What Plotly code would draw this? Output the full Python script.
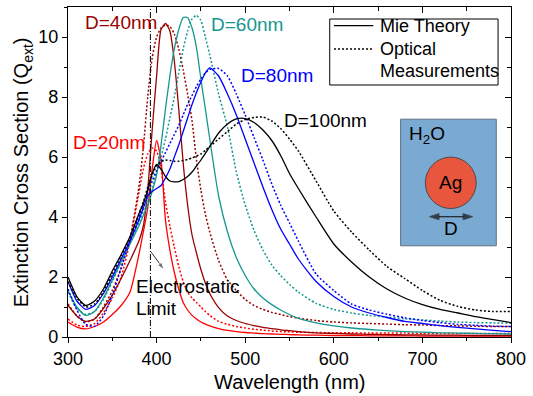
import plotly.graph_objects as go

# ---------------- data ----------------
wavelength = [300, 310, 320, 330, 340, 350, 360, 370, 380,
              385, 390, 395, 400, 405, 410, 415, 420, 425, 430, 435, 440, 445, 450, 455, 460,
              470, 480, 490, 500, 510, 520, 530, 540, 550, 560,
              580, 600, 620, 640, 660, 680, 700, 720, 740, 760, 780, 800]

mie_20 = [0.5, 0.33, 0.27, 0.35, 0.5, 0.75, 1.05, 1.5, 2.75,
          3.5, 4.3, 5.6, 6.55, 5.9, 3.9, 2.9, 2.15, 1.6, 1.15, 0.9, 0.72, 0.6, 0.5, 0.43, 0.37,
          0.28, 0.22, 0.18, 0.15, 0.13, 0.11, 0.1, 0.09, 0.08, 0.07,
          0.06, 0.05, 0.05, 0.04, 0.04, 0.04, 0.03, 0.03, 0.03, 0.03, 0.03, 0.03]
meas_20 = [0.6, 0.4, 0.35, 0.45, 0.8, 1.3, 2.0, 3.2, 4.8,
           5.6, 6.1, 6.3, 6.2, 5.6, 4.5, 3.7, 3.0, 2.35, 1.85, 1.5, 1.3, 1.15, 1.0, 0.85, 0.72,
           0.52, 0.42, 0.35, 0.3, 0.26, 0.23, 0.2, 0.18, 0.17, 0.16,
           0.15, 0.14, 0.14, 0.13, 0.13, 0.13, 0.12, 0.12, 0.12, 0.12, 0.12, 0.12]

mie_40 = [1.05, 0.7, 0.52, 0.6, 0.95, 1.4, 1.95, 2.55, 3.2,
          3.7, 4.9, 6.9, 8.7, 10.25, 10.45, 10.2, 9.2, 7.6, 5.8, 4.4, 3.4, 2.8, 2.25, 1.8, 1.45,
          0.98, 0.7, 0.55, 0.45, 0.38, 0.32, 0.28, 0.24, 0.21, 0.18,
          0.14, 0.12, 0.1, 0.09, 0.08, 0.07, 0.07, 0.06, 0.06, 0.05, 0.05, 0.05]
meas_40 = [1.1, 0.7, 0.5, 0.6, 1.0, 1.55, 2.3, 3.3, 5.0,
           6.3, 8.0, 9.3, 10.0, 10.3, 10.4, 10.35, 10.1, 9.6, 8.9, 8.1, 7.2, 5.9, 4.9, 4.1, 3.5,
           2.55, 1.9, 1.55, 1.25, 1.05, 0.92, 0.82, 0.75, 0.68, 0.63,
           0.55, 0.5, 0.47, 0.45, 0.43, 0.41, 0.4, 0.38, 0.37, 0.36, 0.35, 0.35]

mie_60 = [1.55, 1.0, 0.72, 0.85, 1.3, 1.9, 2.5, 3.1, 3.7,
          4.05, 4.4, 4.85, 5.4, 6.4, 7.6, 8.7, 9.6, 10.25, 10.65, 10.65, 10.3, 9.65, 8.6, 7.6, 6.6,
          4.7, 3.5, 2.65, 2.05, 1.6, 1.3, 1.08, 0.9, 0.75, 0.62,
          0.47, 0.37, 0.3, 0.25, 0.21, 0.18, 0.16, 0.14, 0.13, 0.12, 0.11, 0.1]
meas_60 = [1.5, 0.95, 0.75, 0.85, 1.25, 1.85, 2.5, 3.15, 3.8,
           4.2, 4.6, 5.0, 5.5, 6.0, 6.6, 7.3, 8.0, 8.8, 9.6, 10.2, 10.6, 10.72, 10.55, 10.0, 9.4,
           8.1, 7.0, 5.5, 4.4, 3.55, 2.9, 2.4, 2.05, 1.75, 1.5,
           1.12, 0.92, 0.8, 0.72, 0.66, 0.61, 0.57, 0.53, 0.5, 0.48, 0.47, 0.46]

mie_80 = [1.85, 1.2, 0.92, 1.05, 1.45, 2.0, 2.6, 3.2, 3.9,
          4.3, 4.7, 4.85, 4.95, 5.05, 5.3, 5.6, 6.0, 6.4, 6.85, 7.3, 7.75, 8.15, 8.5, 8.8, 8.97,
          8.7, 8.1, 7.4, 6.6, 5.8, 5.0, 4.25, 3.6, 3.1, 2.6,
          1.85, 1.35, 1.0, 0.8, 0.65, 0.52, 0.45, 0.38, 0.32, 0.27, 0.22, 0.18]
meas_80 = [1.6, 0.9, 0.42, 0.36, 0.7, 1.4, 2.3, 3.2, 4.0,
           4.4, 4.8, 5.2, 5.55, 5.85, 6.15, 6.45, 6.75, 7.05, 7.4, 7.75, 8.05, 8.35, 8.6, 8.8, 8.92,
           8.95, 8.7, 8.1, 7.4, 6.65, 5.9, 5.1, 4.4, 3.8, 3.2,
           2.1, 1.55, 1.1, 0.9, 0.76, 0.64, 0.55, 0.48, 0.42, 0.39, 0.36, 0.35]

mie_100 = [2.0, 1.35, 1.05, 1.2, 1.6, 2.2, 2.75, 3.35, 4.1,
           4.45, 4.9, 5.45, 5.75, 5.6, 5.35, 5.2, 5.17, 5.18, 5.25, 5.35, 5.5, 5.7, 5.9, 6.12, 6.35,
           6.8, 7.1, 7.27, 7.28, 7.15, 6.9, 6.55, 6.05, 5.45, 4.95,
           4.0, 3.1, 2.5, 2.0, 1.6, 1.3, 1.08, 0.92, 0.8, 0.68, 0.58, 0.48]
meas_100 = [1.85, 1.3, 1.0, 1.1, 1.5, 2.1, 2.7, 3.3, 4.1,
            4.5, 5.0, 5.4, 5.7, 5.85, 5.9, 5.88, 5.86, 5.86, 5.88, 5.92, 5.97, 6.03, 6.1, 6.22, 6.35,
            6.6, 6.85, 7.1, 7.25, 7.32, 7.33, 7.2, 6.95, 6.6, 6.2,
            5.2, 4.2, 3.5, 2.9, 2.35, 1.95, 1.55, 1.22, 1.02, 0.9, 0.85, 0.85]

sizes = ["D=20nm", "D=40nm", "D=60nm", "D=80nm", "D=100nm"]
mie_series = [mie_20, mie_40, mie_60, mie_80, mie_100]
meas_series = [meas_20, meas_40, meas_60, meas_80, meas_100]
colors = ["#FF0000", "#990000", "#15978F", "#0000FF", "#000000"]

electrostatic_limit = 393
x_ticks = [300, 400, 500, 600, 700, 800]
y_ticks = [0, 2, 4, 6, 8, 10]

FONT = "Arial, 'Liberation Sans', sans-serif"
LBL = 19

fig = go.Figure()

for name, ym, yd, c in zip(sizes, mie_series, meas_series, colors):
    fig.add_trace(go.Scatter(x=wavelength, y=yd, mode="lines", name=name + " meas",
                             line=dict(color=c, width=1.5, dash="2px,2px", shape="spline", smoothing=0.6),
                             showlegend=False, hoverinfo="skip"))
    fig.add_trace(go.Scatter(x=wavelength, y=ym, mode="lines", name=name,
                             line=dict(color=c, width=1.3, shape="spline", smoothing=0.6),
                             showlegend=False, hoverinfo="skip"))

# electrostatic limit line
fig.add_trace(go.Scatter(x=[electrostatic_limit, electrostatic_limit], y=[0, 11], mode="lines",
                         line=dict(color="black", width=1, dash="6px,2px,1px,2px"),
                         showlegend=False, hoverinfo="skip"))

# pointer arrow to the electrostatic limit label
fig.add_trace(go.Scatter(x=[393.6, 408.5], y=[2.84, 2.24], mode="lines+markers",
                         line=dict(color="#333", width=1),
                         marker=dict(symbol="arrow", size=[0, 8], angleref="previous", color="#333"),
                         showlegend=False, hoverinfo="skip"))

axis_common = dict(showline=True, linecolor="black", linewidth=1.3, showgrid=False, zeroline=False,
                   tickcolor="black", tickwidth=1.1)

fig.update_layout(
    width=533, height=396,
    margin=dict(l=68, r=17, t=7, b=59),
    paper_bgcolor="white", plot_bgcolor="white",
    font=dict(family=FONT, size=18, color="black"),
    xaxis=dict(range=[300, 800], tickvals=x_ticks, ticks="outside", ticklen=5,
               minor=dict(dtick=50, ticks="outside", ticklen=3, tickcolor="black"),
               tickfont=dict(size=18), **axis_common),
    yaxis=dict(range=[0, 11], tickvals=y_ticks, ticks="outside", ticklen=5,
               minor=dict(dtick=1, ticks="outside", ticklen=3, tickcolor="black"),
               tickfont=dict(size=18), **axis_common),
    xaxis2=dict(overlaying="x", side="top", range=[300, 800], tickvals=x_ticks, ticks="inside", ticklen=6,
                minor=dict(dtick=50, ticks="inside", ticklen=4, tickcolor="black"),
                showticklabels=False, **axis_common),
    yaxis2=dict(overlaying="y", side="right", range=[0, 11], tickvals=y_ticks, ticks="inside", ticklen=6,
                minor=dict(dtick=1, ticks="inside", ticklen=4, tickcolor="black"),
                showticklabels=False, **axis_common),
)
fig.add_trace(go.Scatter(x=[None], y=[None], xaxis="x2", yaxis="y2", showlegend=False, hoverinfo="skip"))

ann = []
# axis titles
ann.append(dict(text="Wavelength (nm)", xref="paper", yref="paper", x=0.5, y=-0.137,
                xanchor="center", yanchor="middle", showarrow=False, font=dict(size=20)))
ann.append(dict(text="Extinction Cross Section (Q<sub>ext</sub>)", xref="paper", yref="paper",
                x=-0.103, y=0.5, textangle=-90, xanchor="center", yanchor="middle",
                showarrow=False, font=dict(size=20)))
# size labels
label_pos = [(346.6, 6.47), (360.1, 10.47), (501.9, 10.43), (535.4, 8.71), (590.2, 7.21)]
for name, (lx, ly), c in zip(sizes, label_pos, colors):
    ann.append(dict(text=name, x=lx, y=ly, xref="x", yref="y", showarrow=False,
                    xanchor="center", yanchor="middle", font=dict(size=LBL, color=c)))
# electrostatic limit text
ann.append(dict(text="Electrostatic", x=374.5, y=1.68, xref="x", yref="y", showarrow=False,
                xanchor="left", yanchor="middle", font=dict(size=LBL)))
ann.append(dict(text="Limit", x=374.5, y=0.96, xref="x", yref="y", showarrow=False,
                xanchor="left", yanchor="middle", font=dict(size=LBL)))

shapes = []
# legend
shapes.append(dict(type="rect", xref="x", yref="y", x0=595.4, x1=785.4, y0=8.4, y1=10.6,
                   line=dict(color="black", width=1), fillcolor="white", layer="above"))
shapes.append(dict(type="line", xref="x", yref="y", x0=600.2, x1=644.6, y0=10.38, y1=10.38,
                   line=dict(color="black", width=1.3), layer="above"))
shapes.append(dict(type="line", xref="x", yref="y", x0=600.2, x1=644.6, y0=9.6, y1=9.6,
                   line=dict(color="black", width=1.3, dash="2px,2px"), layer="above"))
ann.append(dict(text="Mie Theory", x=650.2, y=10.37, xref="x", yref="y", showarrow=False,
                xanchor="left", yanchor="middle", font=dict(size=18)))
ann.append(dict(text="Optical", x=650.2, y=9.6, xref="x", yref="y", showarrow=False,
                xanchor="left", yanchor="middle", font=dict(size=18)))
ann.append(dict(text="Measurements", x=650.2, y=8.87, xref="x", yref="y", showarrow=False,
                xanchor="left", yanchor="middle", font=dict(size=18)))

# inset (no curve passes through this region, so it can sit below the traces)
shapes.append(dict(type="rect", xref="x", yref="y", x0=675.4, x1=783.4, y0=3.04, y1=7.26,
                   line=dict(color="#5F7385", width=1), fillcolor="#7AAAD2", layer="below"))
shapes.append(dict(type="circle", xref="x", yref="y", x0=732 - 28.7, x1=732 + 28.7,
                   y0=5.14 - 0.857, y1=5.14 + 0.857,
                   line=dict(color="#4A4A4A", width=1), fillcolor="#E8563E", layer="below"))
ann.append(dict(text="H<sub>2</sub>O", x=705, y=6.72, xref="x", yref="y", showarrow=False,
                xanchor="center", yanchor="middle", font=dict(size=LBL)))
ann.append(dict(text="Ag", x=732, y=5.14, xref="x", yref="y", showarrow=False,
                xanchor="center", yanchor="middle", font=dict(size=LBL)))
ann.append(dict(text="D", x=732, y=3.62, xref="x", yref="y", showarrow=False,
                xanchor="center", yanchor="middle", font=dict(size=LBL)))

fig.update_layout(annotations=ann, shapes=shapes)

# double-headed "D" arrow inside the inset
for end_x in (708.0, 756.6):
    fig.add_trace(go.Scatter(x=[732, end_x], y=[4.01, 4.01], mode="lines+markers",
                             line=dict(color="#222", width=1.2),
                             marker=dict(symbol="arrow", size=[0, 10], angleref="previous", color="#111"),
                             showlegend=False, hoverinfo="skip"))

fig.write_html("out.html")
